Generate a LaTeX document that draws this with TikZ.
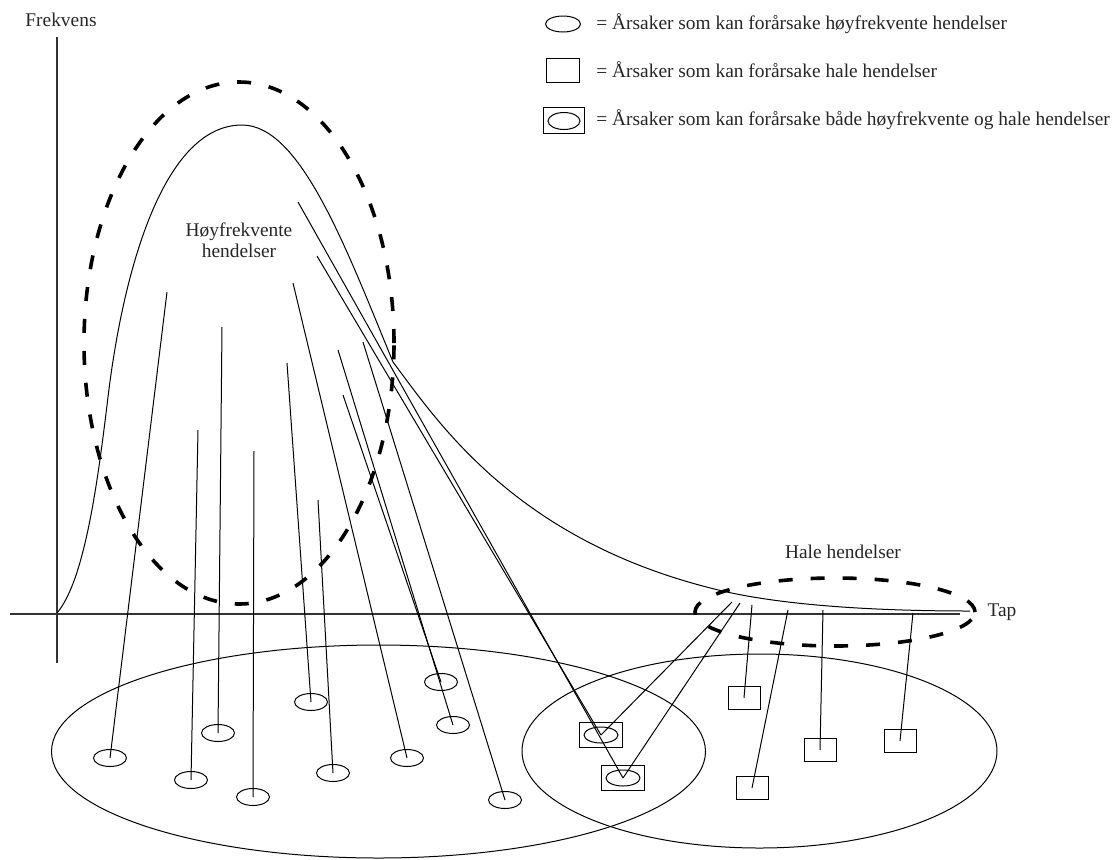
\documentclass[tikz,border=0pt]{standalone}
\usepackage{fontspec}
\setmainfont{Liberation Serif}
\usetikzlibrary{shapes.geometric}
\begin{document}
\begin{tikzpicture}[x=0.5pt,y=-0.5pt,
  cause/.style={draw, ellipse, line width=0.5pt, minimum width=16.5pt, minimum height=8.5pt, inner sep=0pt},
  tailbox/.style={draw, rectangle, line width=0.5pt, minimum width=16pt, minimum height=11.5pt, inner sep=0pt},
  bothbox/.style={draw, rectangle, line width=0.5pt, minimum width=21.5pt, minimum height=12.5pt, inner sep=0pt},
  bothin/.style={draw, ellipse, line width=0.5pt, minimum width=17pt, minimum height=8pt, inner sep=0pt},
  region/.style={draw, ellipse, line width=0.5pt, inner sep=0pt},
  groupring/.style={draw, ellipse, line width=1.8pt, dash pattern=on 7pt off 9pt, inner sep=0pt},
  lbl/.style={font=\fontsize{9.7}{10.5}\selectfont, text=black!85, inner sep=0pt, align=center},
  link/.style={line width=0.5pt},
  axisline/.style={line width=0.6pt, draw=black!80}
]
\useasboundingbox (0,0) rectangle (1116,859);

% axes
\draw[axisline] (57,37) -- (57,663);
\draw[axisline] (10,614) -- (960,614);
\node[lbl] (frekvens) at (61,20) {Frekvens};
\node[lbl] (tap) at (1002,612) {Tap};

% frequency curve
\draw[link] (57,613) .. controls (85,580) and (98,480) .. (108,397)
  .. controls (124,265) and (165,125) .. (242,125)
  .. controls (300,125) and (345,245) .. (393,362)
  .. controls (440,425) and (520,545) .. (727,592)
  .. controls (800,608) and (900,611) .. (970,611);

% dashed groups
\node[groupring, minimum width=155pt, minimum height=261pt] (hfring) at (239,343) {};
\node[groupring, minimum width=140pt, minimum height=34pt] (tailring) at (835,612) {};
\node[lbl] (hflabel) at (239,240) {Høyfrekvente\\hendelser};
\node[lbl] (taillabel) at (843,552) {Hale hendelser};

% big cause regions
\node[region, minimum width=327pt, minimum height=106.5pt] (leftreg) at (378.5,751.5) {};
\node[region, minimum width=237.5pt, minimum height=97pt] (rightreg) at (759.5,751) {};

% causes of high-frequency events
\node[cause] (e1) at (110,758) {};
\node[cause] (e2) at (218,733) {};
\node[cause] (e3) at (191,780) {};
\node[cause] (e4) at (253,797) {};
\node[cause] (e5) at (311,702) {};
\node[cause] (e6) at (333,773) {};
\node[cause] (e7) at (407,758) {};
\node[cause] (e8) at (441,682) {};
\node[cause] (e9) at (453,725) {};
\node[cause] (e10) at (505,800) {};

% causes of both
\node[bothbox] (bA) at (601,735) {};
\node[bothin] (bAin) at (601,735) {};
\node[bothbox] (bB) at (623,778) {};
\node[bothin] (bBin) at (623,778) {};

% causes of tail events
\node[tailbox] (s1) at (744,698) {};
\node[tailbox] (s2) at (752,788) {};
\node[tailbox] (s3) at (820,750) {};
\node[tailbox] (s4) at (900,741) {};

% free ends of connectors
\coordinate (t1) at (167,292);
\coordinate (t2) at (222,327);
\coordinate (t3) at (198,430);
\coordinate (t4) at (254,451);
\coordinate (t5) at (287,363);
\coordinate (t6) at (318,500);
\coordinate (t7) at (293,283);
\coordinate (t8) at (343,395);
\coordinate (t9) at (338,350);
\coordinate (t10) at (363,342);
\coordinate (tA) at (317,256);
\coordinate (tB) at (298,202);
\coordinate (hA) at (732,602);
\coordinate (hB) at (740,603);
\coordinate (h1) at (752,605);
\coordinate (h2) at (788,610);
\coordinate (h3) at (823,610);
\coordinate (h4) at (913,613);

% connectors
\draw[link] (t1) -- (e1.center);
\draw[link] (t2) -- (e2.center);
\draw[link] (t3) -- (e3.center);
\draw[link] (t4) -- (e4.center);
\draw[link] (t5) -- (e5.center);
\draw[link] (t6) -- (e6.center);
\draw[link] (t7) -- (e7.center);
\draw[link] (t8) -- (e8.center);
\draw[link] (t9) -- (e9.center);
\draw[link] (t10) -- (e10.center);
\draw[link] (tA) -- (bA.center);
\draw[link] (tB) -- (bB.center);
\draw[link] (hA) -- (bA.center);
\draw[link] (hB) -- (bB.center);
\draw[link] (h1) -- (s1.center);
\draw[link] (h2) -- (s2.center);
\draw[link] (h3) -- (s3.center);
\draw[link] (h4) -- (s4.center);

% legend
\node[cause, minimum width=17.5pt, minimum height=8pt] (lg1) at (563,24) {};
\node[lbl, anchor=west] (lt1) at (596,24) {= Årsaker som kan forårsake høyfrekvente hendelser};
\node[tailbox, minimum width=16.5pt, minimum height=12pt] (lg2) at (563,70) {};
\node[lbl, anchor=west] (lt2) at (596,70) {= Årsaker som kan forårsake hale hendelser};
\node[bothbox, minimum width=20.5pt, minimum height=13pt] (lg3) at (564,120) {};
\node[bothin, minimum width=16pt, minimum height=8.5pt] (lg3in) at (564,121) {};
\node[lbl, anchor=west] (lt3) at (596,120) {= Årsaker som kan forårsake både høyfrekvente og hale hendelser};
\end{tikzpicture}
\end{document}
